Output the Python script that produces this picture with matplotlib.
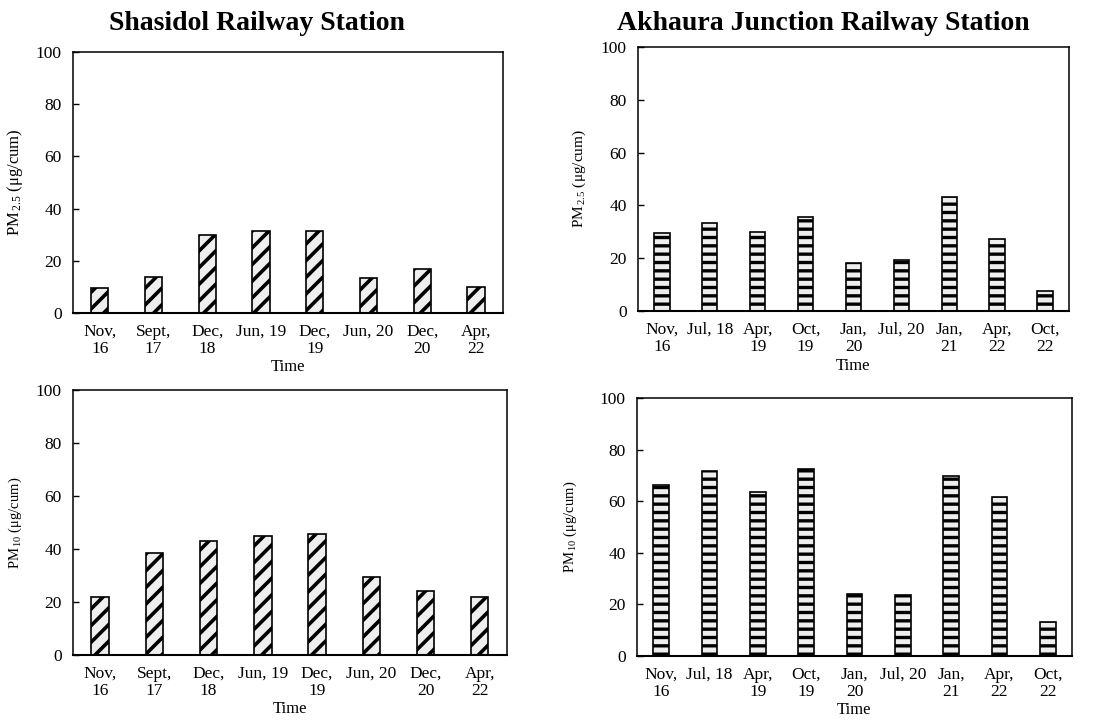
import matplotlib
matplotlib.use('Agg')
import matplotlib.pyplot as plt

plt.rcParams['font.family'] = ['Liberation Serif', 'DejaVu Serif']
plt.rcParams['mathtext.fontset'] = 'custom'
plt.rcParams['mathtext.rm'] = 'Liberation Serif'
plt.rcParams['mathtext.it'] = 'Liberation Serif:italic'
plt.rcParams['hatch.color'] = 'black'

# Shasidol Railway Station
shasidol_dates = ['Nov,\n16', 'Sept,\n17', 'Dec,\n18', 'Jun, 19', 'Dec,\n19',
                  'Jun, 20', 'Dec,\n20', 'Apr,\n22']
shasidol_pm25 = [9.7, 13.7, 29.8, 31.6, 31.6, 13.5, 16.8, 9.8]
shasidol_pm10 = [22.0, 38.4, 43.1, 44.8, 45.7, 29.4, 24.3, 22.0]

# Akhaura Junction Railway Station
akhaura_dates = ['Nov,\n16', 'Jul, 18', 'Apr,\n19', 'Oct,\n19', 'Jan,\n20',
                 'Jul, 20', 'Jan,\n21', 'Apr,\n22', 'Oct,\n22']
akhaura_pm25 = [29.5, 33.4, 30.0, 35.5, 18.1, 19.2, 43.1, 27.1, 7.6]
akhaura_pm10 = [66.2, 71.8, 63.5, 72.4, 24.2, 23.8, 69.6, 61.8, 13.0]

yticks = [0, 20, 40, 60, 80, 100]

fig = plt.figure(figsize=(11.09, 7.25), dpi=100)

panels = [
    # rect, labels, values, hatch, hatch lw, ylabel, ylabel x, ylabel size
    ([0.0658, 0.5683, 0.3877, 0.3600], shasidol_dates, shasidol_pm25, '//', 2.6,
     r'PM$_{\,2.5}$ (μg/cum)', -0.112, 12),
    ([0.5753, 0.5710, 0.3886, 0.3641], akhaura_dates, akhaura_pm25, '--', 2.4,
     r'PM$_{\,2.5}$ (μg/cum)', -0.116, 11),
    ([0.0658, 0.0966, 0.3913, 0.3655], shasidol_dates, shasidol_pm10, '//', 2.6,
     r'PM$_{\,10}$ (μg/cum)', -0.112, 10.5),
    ([0.5744, 0.0952, 0.3922, 0.3559], akhaura_dates, akhaura_pm10, '--', 2.4,
     r'PM$_{\,10}$ (μg/cum)', -0.133, 10.5),
]

for rect, labels, vals, hatch, hlw, ylab, ylx, yls in panels:
    ax = fig.add_axes(rect)
    x = list(range(len(vals)))
    plt.rcParams['hatch.linewidth'] = hlw
    bars = ax.bar(x, vals, width=0.32, facecolor='#eeeeee', edgecolor='black',
                  linewidth=1.2, hatch=hatch)
    for b in bars:
        if hasattr(b, 'set_hatch_linewidth'):
            b.set_hatch_linewidth(hlw)
    ax.set_xlim(-0.5, len(vals) - 0.5)
    ax.set_ylim(0, 100)
    ax.set_yticks(yticks)
    ax.set_xticks(x)
    ax.set_xticklabels(labels, fontsize=12.5, linespacing=1.05)
    ax.tick_params(axis='x', length=0, pad=8)
    ax.tick_params(axis='y', direction='in', length=4, width=1, labelsize=12.5, pad=8)
    ax.set_xlabel('Time', fontsize=12, labelpad=2)
    ax.set_ylabel(ylab, fontsize=yls)
    ax.yaxis.set_label_coords(ylx, 0.5)
    for s in ax.spines.values():
        s.set_linewidth(1.1)
    ax.spines['bottom'].set_linewidth(1.5)

fig.text(0.232, 0.967, 'Shasidol Railway Station', fontsize=20,
         fontweight='bold', ha='center', va='center')
fig.text(0.742, 0.967, 'Akhaura Junction Railway Station', fontsize=20,
         fontweight='bold', ha='center', va='center')

fig.savefig('out.png', dpi=100)
